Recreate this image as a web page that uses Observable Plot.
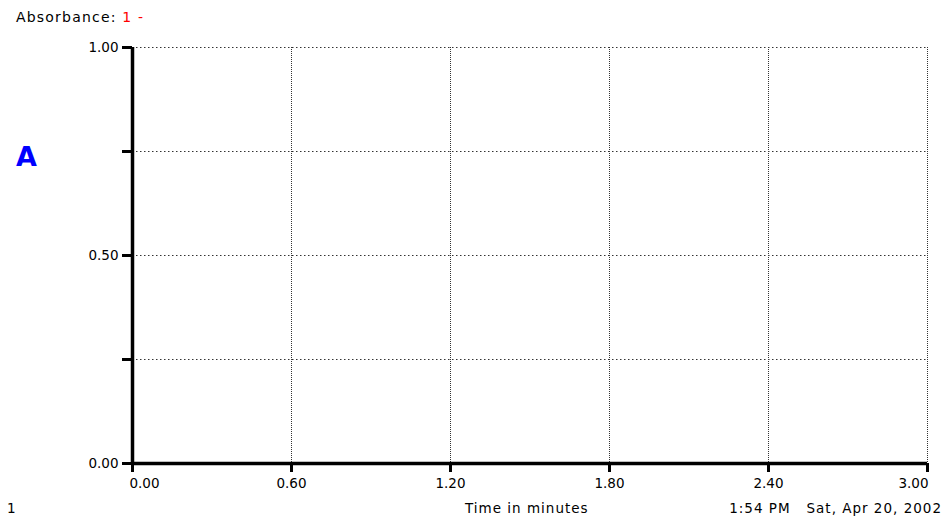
<!DOCTYPE html>
<html>
<head>
<meta charset="utf-8">
<script src="https://cdn.jsdelivr.net/npm/d3@7"></script>
<script src="https://cdn.jsdelivr.net/npm/@observablehq/plot@0.6"></script>
<style>
  html, body { margin: 0; padding: 0; background: #fff; }
  #wrap { position: relative; width: 947px; height: 529px; overflow: hidden; font-family: "DejaVu Sans", sans-serif; }
  .t { position: absolute; font-size: 13.5px; line-height: 16px; letter-spacing: 1px; color: #000; white-space: pre; }
</style>
</head>
<body>
<div id="wrap">
  <div id="chart"></div>
  <div class="t" style="left:16px; top:9px; font-size:14px; letter-spacing:1.2px;">Absorbance: <span style="color:#ff0000">1 -</span></div>
  <div class="t" style="left:16px; top:143px; font-size:27px; line-height:28px; font-weight:bold; color:#0000ff; letter-spacing:0;">A</div>
  <div class="t" style="left:7px; top:500px;">1</div>
  <div class="t" style="left:465px; top:500px;">Time in minutes</div>
  <div class="t" style="right:5px; top:500px;">1:54 PM   Sat, Apr 20, 2002</div>
</div>
<script>
const xTicks = [0, 0.6, 1.2, 1.8, 2.4, 3.0];
const yTicks = [0, 0.25, 0.5, 0.75, 1.0];
const yLabeled = [0, 0.5, 1.0];
const xDomain = [0, 3];
const yDomain = [0, 1];

const fmt = d3.format(".2f");
const xFirst = xTicks.slice(0, 1);
const xMiddle = xTicks.slice(1, -1);
const xLast = xTicks.slice(-1);

const chart = Plot.plot({
  width: 947,
  height: 529,
  marginLeft: 132,
  marginRight: 20,
  marginTop: 47,
  marginBottom: 66,
  x: {domain: xDomain},
  y: {domain: yDomain},
  style: {fontFamily: "DejaVu Sans, sans-serif", fontSize: "13.5px", background: "transparent", color: "#000"},
  marks: [
    Plot.gridX(xTicks.slice(1), {stroke: "#333", strokeOpacity: 1, strokeDasharray: "1,1"}),
    Plot.gridY(yTicks.slice(1), {stroke: "#333", strokeOpacity: 1, strokeDasharray: "1.5,2.5"}),
    Plot.ruleX([xDomain[0]], {stroke: "#000", strokeWidth: 3.5}),
    Plot.ruleY([yDomain[0]], {stroke: "#000", strokeWidth: 3.5}),
    Plot.axisX(xTicks, {tickSize: 9, strokeWidth: 3, tickFormat: () => "", label: null}),
    Plot.axisX(xFirst, {tickSize: 0, tickPadding: 15, tickFormat: fmt, dx: 12, label: null}),
    Plot.axisX(xMiddle, {tickSize: 0, tickPadding: 15, tickFormat: fmt, label: null}),
    Plot.axisX(xLast, {tickSize: 0, tickPadding: 15, tickFormat: fmt, dx: -14, label: null}),
    Plot.axisY(yTicks, {tickSize: 10, strokeWidth: 3, tickFormat: () => "", label: null}),
    Plot.axisY(yLabeled, {tickSize: 0, tickPadding: 14, tickFormat: fmt, label: null})
  ]
});
document.getElementById("chart").appendChild(chart);
</script>
</body>
</html>
